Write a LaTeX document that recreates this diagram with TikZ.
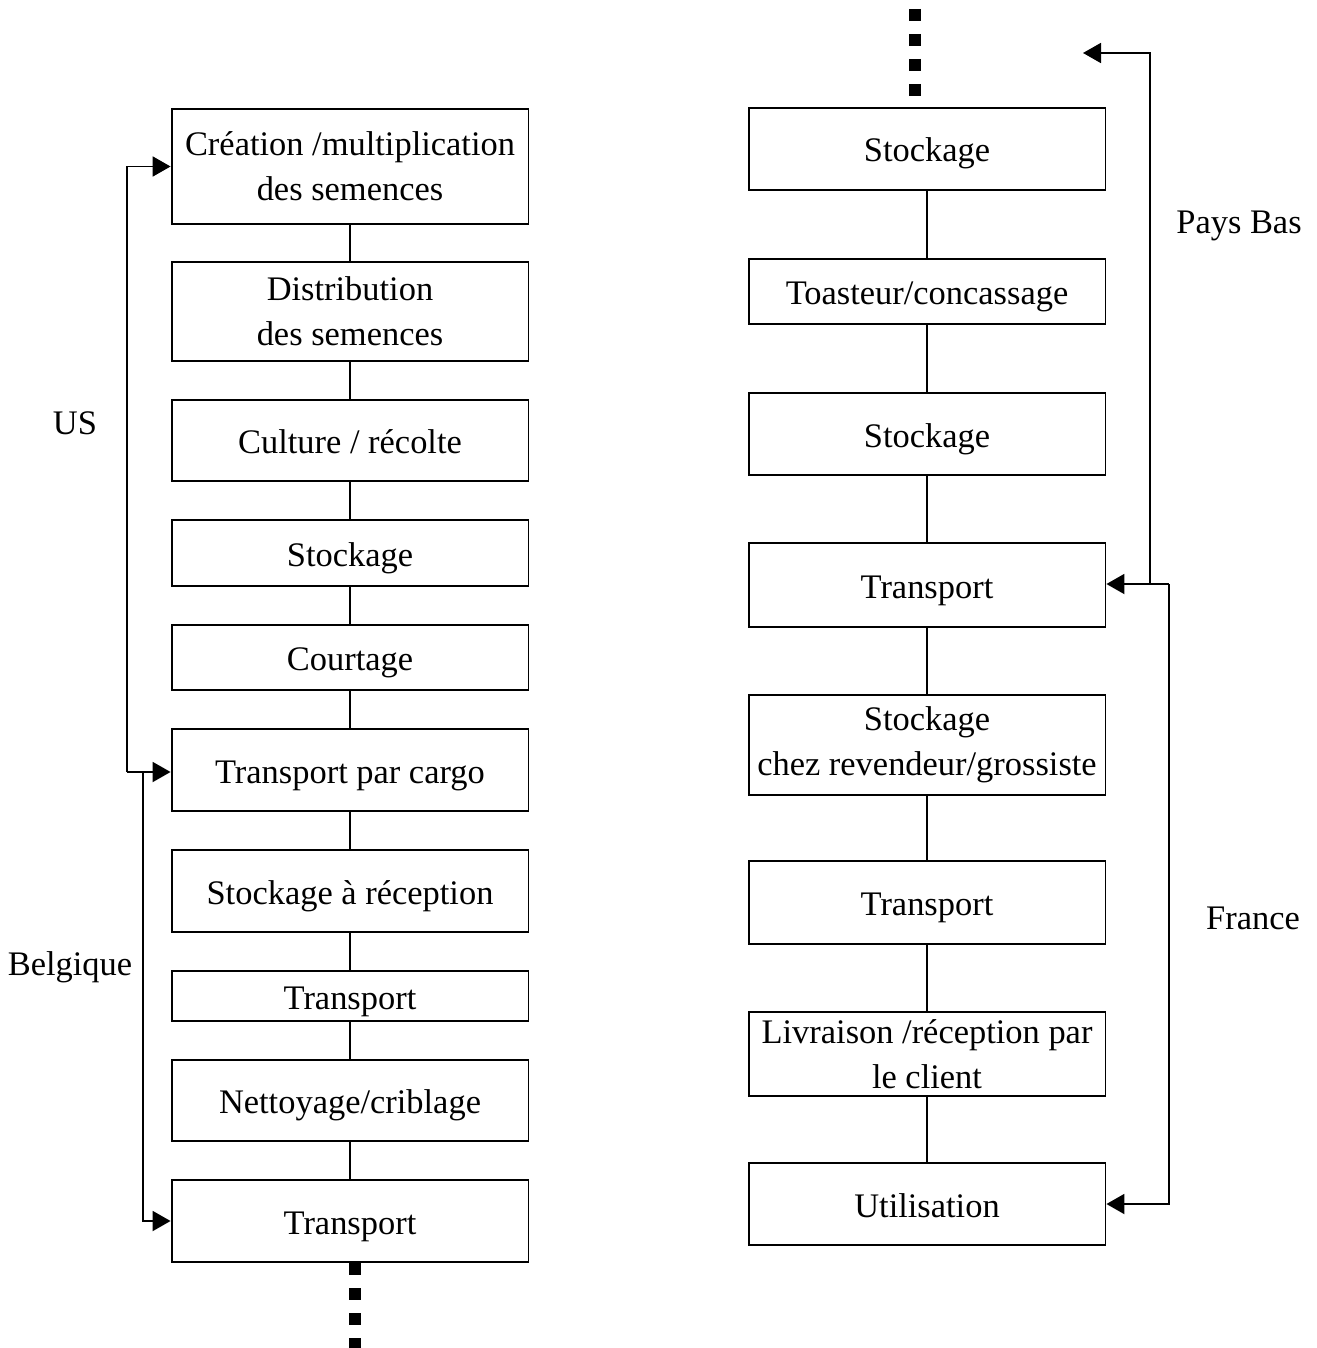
\documentclass[tikz,border=0pt]{standalone}
\usepackage{fontspec}
\setmainfont{Liberation Serif}
\usepackage{tikz}
\usetikzlibrary{arrows.meta}

\begin{document}
\begin{tikzpicture}[x=0.02cm,y=-0.02cm,line width=1.1pt,
	every node/.style={font=\fontsize{19.6}{25.6}\selectfont,align=center},
	box/.style={draw,minimum width=7.14cm,inner sep=0pt},
	onebox/.style={box,text height=0.62cm,text depth=0.1cm},
	arr/.style={-{Triangle[length=0.36cm,width=0.4cm]}},
	dots/.style={line width=0.24cm,dash pattern=on 0.24cm off 0.26cm}]
	\useasboundingbox (0,0) rectangle (1317,1348);
	
	% left column
	\node[box,minimum height=2.3cm] (creation) at (350,166.5) {Création /multiplication\\des semences};
	\node[box,minimum height=1.98cm] (distrib) at (350,311.5) {Distribution\\des semences};
	\node[onebox,minimum height=1.62cm] (culture) at (350,440.5) {Culture / récolte};
	\node[onebox,minimum height=1.32cm] (stock1) at (350,553) {Stockage};
	\node[onebox,minimum height=1.3cm] (courtage) at (350,657.5) {Courtage};
	\node[onebox,minimum height=1.64cm] (cargo) at (350,770) {Transport par cargo};
	\node[onebox,minimum height=1.64cm] (reception) at (350,891) {Stockage à réception};
	\node[onebox,minimum height=1.0cm] (transp1) at (350,996) {Transport};
	\node[onebox,minimum height=1.62cm] (nettoyage) at (350,1100.5) {Nettoyage/criblage};
	\node[onebox,minimum height=1.64cm] (transp2) at (350,1221) {Transport};
	
	\draw (creation) -- (distrib) -- (culture) -- (stock1) -- (courtage) -- (cargo)
		-- (reception) -- (transp1) -- (nettoyage) -- (transp2);
	
	\coordinate (lowdots) at (355,1263);
	\coordinate (lowend) at (355,1350);
	\draw[dots] (lowdots) -- (lowend);
	
	% right column
	\node[onebox,minimum height=1.64cm] (rstock1) at (927,149) {Stockage};
	\node[onebox,minimum height=1.3cm] (toast) at (927,291.5) {Toasteur/concassage};
	\node[onebox,minimum height=1.64cm] (rstock2) at (927,434) {Stockage};
	\node[onebox,minimum height=1.68cm] (rtransp1) at (927,585) {Transport};
	\node[box,minimum height=2.0cm] (revendeur) at (927,745) {Stockage\\chez revendeur/grossiste};
	\node[onebox,minimum height=1.66cm] (rtransp2) at (927,902.5) {Transport};
	\node[box,minimum height=1.68cm] (livraison) at (927,1054) {Livraison /réception par\\le client};
	\node[onebox,minimum height=1.64cm] (util) at (927,1204) {Utilisation};
	
	\draw (rstock1) -- (toast) -- (rstock2) -- (rtransp1) -- (revendeur) -- (rtransp2)
		-- (livraison) -- (util);
	
	\coordinate (topdots) at (915,9);
	\coordinate (topend) at (915,96);
	\draw[dots] (topdots) -- (topend);
	
	% countries
	\coordinate (us) at (127,772);
	\coordinate (be) at (143,772);
	\draw[arr] (us) |- (creation);
	\draw[arr] (us) -- (us -| cargo.west);
	\draw[arr] (be) |- (transp2);
	
	\coordinate (fr) at (1169,584);
	\coordinate (pbfoot) at (1150,584);
	\coordinate (pbend) at (1083,53);
	\draw[arr] (fr) -- (fr -| rtransp1.east);
	\draw[arr] (fr) |- (util);
	\draw[arr] (pbfoot) |- (pbend);
	
	\node (lbus) at (75,423) {US};
	\node (lbbe) at (70,967) {Belgique};
	\node (lbpb) at (1239,226) {Pays Bas};
	\node (lbfr) at (1253,918) {France};
\end{tikzpicture}
\end{document}
